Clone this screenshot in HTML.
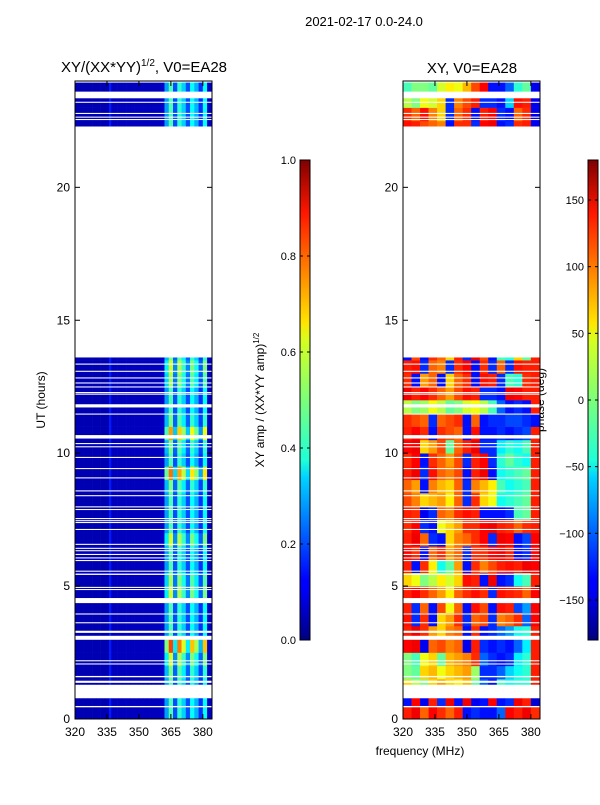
<!DOCTYPE html>
<html><head><meta charset="utf-8"><style>
body{margin:0;background:#fff;font-family:"Liberation Sans",sans-serif;}
svg text{font-family:"Liberation Sans","DejaVu Sans",sans-serif;}
</style></head><body>
<svg id="fig" width="600" height="800" xmlns="http://www.w3.org/2000/svg">
<defs>
<linearGradient id="jet" x1="0" y1="1" x2="0" y2="0">
<stop offset="0" stop-color="#00007f"/><stop offset="0.11" stop-color="#0000ff"/><stop offset="0.125" stop-color="#0000ff"/>
<stop offset="0.34" stop-color="#00d4ff"/><stop offset="0.375" stop-color="#1fffd7"/><stop offset="0.5" stop-color="#7cff79"/>
<stop offset="0.625" stop-color="#d7ff1f"/><stop offset="0.66" stop-color="#ffe500"/><stop offset="0.89" stop-color="#ff1600"/>
<stop offset="1" stop-color="#7f0000"/></linearGradient>
</defs>
<text x="364" y="26" font-size="13" text-anchor="middle">2021-02-17 0.0-24.0</text>
<text x="144" y="72" font-size="15" text-anchor="middle">XY/(XX*YY)<tspan font-size="10" dy="-6">1/2</tspan><tspan dy="6">, V0=EA28</tspan></text>
<text x="472" y="73" font-size="15" text-anchor="middle">XY, V0=EA28</text>
<text x="420" y="755" font-size="12" text-anchor="middle">frequency (MHz)</text>
<text transform="translate(45,400) rotate(-90)" font-size="12" text-anchor="middle">UT (hours)</text>
<text transform="translate(264,400) rotate(-90)" font-size="12" text-anchor="middle">XY amp / (XX*YY amp)<tspan font-size="8" dy="-5">1/2</tspan></text>
<text transform="translate(544,400) rotate(-90)" font-size="12" text-anchor="middle">phase (deg)</text>
<g id="ampG"></g>
<g id="phG"></g>
<g id="axG"></g>
</svg>
<script>
const dataRanges=[[0,0.78],[1.3,13.6],[22.3,24]];
const gaps=[[0.44,0.49],[1.36,1.44],[1.57,1.62],[2.05,2.09],[2.17,2.21],[2.98,3.13],[3.24,3.32],[3.6,3.64],[3.93,3.97],[4.36,4.55],[4.85,4.89],[4.93,4.97],[5.42,5.47],[5.54,5.58],[5.94,5.98],[6.04,6.08],[6.17,6.21],[6.31,6.35],[6.4,6.44],[6.55,6.59],[7.11,7.15],[7.37,7.41],[7.44,7.48],[7.52,7.56],[7.86,7.9],[7.96,8.0],[8.38,8.42],[8.56,8.6],[9.05,9.09],[9.4,9.44],[9.82,9.86],[10.22,10.26],[10.34,10.38],[10.55,10.68],[11.45,11.49],[11.72,11.84],[12.2,12.24],[12.26,12.3],[12.47,12.51],[12.62,12.66],[12.81,12.85],[13.06,13.1],[13.33,13.37],[22.53,22.57],[22.62,22.66],[22.76,22.8],[23.18,23.22],[23.35,23.6],[23.94,23.98]];
const ampFreqs=[320,322,324,326,328,330,332,334,336,337,338,340,342,344,346,348,350,352,354,356,358,360,362,364,366,368,370,372,374,376,378,380,382];
const ampProfile=[0.05,0.05,0.05,0.05,0.05,0.05,0.05,0.05,0.15,0.06,0.06,0.06,0.06,0.06,0.06,0.06,0.06,0.06,0.06,0.06,0.06,0.07,0.28,0.45,0.2,0.42,0.33,0.2,0.38,0.3,0.17,0.38,0.07];
const rowHours=[0,0.5,1,1.5,2,2.5,3,3.5,4,4.5,5,5.5,6,6.5,7,7.5,8,8.5,9,9.5,10,10.5,11,11.5,12,12.5,13,13.5,22,22.5,23,23.5];
const ampGain=[1,1,1,1.1,1.3,1.8,1,1,1,1.3,1.2,1,1,1.3,1,1,1,1.1,1.7,1,1.1,1.6,1.1,1,1,1.2,1.3,1.1,1,1,1,1];
const phFreqs=[320,324,328,332,336,340,344,348,352,356,360,364,368,372,376,380];
const phase=[
[125,140,100,135,120,100,125,-130,-120,-130,-130,-100,135,125,140,120],
[-130,135,-140,125,-120,140,-130,140,-140,-130,135,-130,-120,140,125,-150],
[60,20,0,60,80,60,50,70,-10,-100,-130,-20,-40,-30,-30,125],
[0,-10,60,70,40,60,70,80,10,-120,-120,-100,-60,-40,-30,125],
[0,-20,40,60,-10,70,80,90,120,-100,-120,-130,-120,-50,-30,125],
[135,140,-140,100,110,90,100,-140,125,-120,-130,-120,-130,-100,-50,125],
[125,140,120,80,60,90,100,-130,120,-130,-120,-100,-80,-40,-30,125],
[130,-120,120,-130,60,80,120,-120,100,110,-120,90,100,120,-100,135],
[125,-120,100,-130,110,40,100,-130,130,110,-130,130,125,-110,-80,135],
[125,135,120,100,80,50,100,120,130,120,-120,130,125,120,100,135],
[60,40,0,20,50,30,60,130,125,-130,140,-130,-120,-40,-20,125],
[125,-130,120,50,-40,-10,80,-130,120,90,110,125,130,125,140,135],
[135,120,-130,100,120,80,100,-120,120,120,135,140,125,-130,-120,135],
[125,140,100,-120,-130,60,90,100,120,135,-120,140,135,-130,-110,135],
[120,135,-120,-130,40,60,80,120,120,135,140,125,120,100,120,125],
[125,120,-140,-120,100,90,120,130,125,-130,-130,-130,-120,-20,-10,125],
[110,90,60,70,80,50,100,-120,120,60,40,-40,-30,-20,-10,125],
[100,80,-130,90,70,60,100,-120,90,70,50,-20,-40,-30,-20,125],
[125,140,-120,130,100,90,110,-130,125,140,-130,-40,-30,-20,-10,125],
[120,135,-130,120,100,80,110,-120,125,135,-120,-30,-10,-30,-40,125],
[135,140,60,80,110,-10,100,125,140,-120,-120,-50,-30,-40,-20,125],
[125,135,120,-130,120,110,100,-130,130,-130,-130,-120,-130,-120,-110,125],
[120,110,100,-120,100,110,120,-130,100,-130,-120,-120,-110,-110,-120,-130],
[20,0,10,40,20,-10,0,30,40,20,-20,-100,-130,-120,-130,125],
[140,125,135,120,100,80,110,130,125,-120,-120,-130,140,135,125,125],
[120,-130,80,100,-130,60,100,120,-130,130,125,-120,-20,-30,120,125],
[125,130,-120,100,90,-120,120,135,-130,120,-120,100,-120,130,125,125],
[-130,110,-130,120,100,60,125,-120,140,110,-130,-20,-30,60,-10,125],
[130,125,110,100,90,-130,120,120,-120,135,140,-130,-120,120,125,-140],
[120,100,130,90,60,-120,100,120,-130,125,135,-120,-130,100,120,-140],
[20,0,40,30,60,-120,90,110,125,-120,-120,-130,-60,130,125,-140],
[-20,0,0,-10,30,50,40,70,110,135,-130,-130,-100,-30,-10,-140]];
const yTicks=[0,5,10,15,20];
const xTicks=[320,335,350,365,380];
const ampTicks=[0.0,0.2,0.4,0.6,0.8,1.0];
const phTicks=[-150,-100,-50,0,50,100,150];

const NS='http://www.w3.org/2000/svg';
const panels=[{x0:75,x1:212},{x0:403,x1:540}];
const yT=81,yB=719;
const fMin=320,fMax=384.3;
const yOf=h=>yB-(h/24)*(yB-yT);
const xOf=(p,f)=>p.x0+(f-fMin)/(fMax-fMin)*(p.x1-p.x0);
function jet(v){v=Math.max(0,Math.min(1,v));
 const c=t=>Math.round(255*Math.max(0,Math.min(1,1.5-Math.abs(4*v-t))));
 return `rgb(${c(3)},${c(2)},${c(1)})`;}
function mk(tag,attrs,parent){const e=document.createElementNS(NS,tag);for(const k in attrs)e.setAttribute(k,attrs[k]);parent.appendChild(e);return e;}
const ampG=document.getElementById('ampG'),phG=document.getElementById('phG'),axG=document.getElementById('axG');
function cells(p,g,freqs,valFn,name){
 rowHours.forEach((h,ri)=>{
  dataRanges.forEach(r=>{
   const a=Math.max(h,r[0]),b=Math.min(h+0.5,r[1]);
   if(b<=a)return;
   freqs.forEach((f,ci)=>{
    const f2=ci+1<freqs.length?freqs[ci+1]:fMax;
    const x=xOf(p,f),w=xOf(p,f2)-x;
    const e=mk('rect',{x:x,y:yOf(b),width:w+0.3,height:yOf(a)-yOf(b)+0.3,fill:valFn(ri,ci)},g);
    
    
   });
  });
 });
}
cells(panels[0],ampG,ampFreqs,(ri,ci)=>{const v=ampProfile[ci];return jet(v>0.16?Math.min(1,v*ampGain[ri]):v);},'amp-cell');
cells(panels[1],phG,phFreqs,(ri,ci)=>jet((phase[ri][ci]+180)/360),'phase-cell');
panels.forEach((p,pi)=>{
 gaps.forEach(g=>{
  const e=mk('rect',{x:p.x0,y:yOf(g[1]),width:p.x1-p.x0,height:yOf(g[0])-yOf(g[1]),fill:'#fff'},axG);
  
  
 });
 const fr=mk('rect',{x:p.x0,y:yT,width:p.x1-p.x0,height:yB-yT,fill:'none',stroke:'#000','stroke-width':1},axG);
 
 
 yTicks.forEach(t=>{const y=yOf(t);
  mk('line',{x1:p.x0,x2:p.x0+5,y1:y,y2:y,stroke:'#000'},axG);mk('line',{x1:p.x1,x2:p.x1-5,y1:y,y2:y,stroke:'#000'},axG);
  const tx=mk('text',{x:p.x0-5,y:y+4,'font-size':12,'text-anchor':'end'},axG);tx.textContent=t;
  
  
 });
 xTicks.forEach(t=>{const x=xOf(p,t);
  mk('line',{x1:x,x2:x,y1:yB,y2:yB-5,stroke:'#000'},axG);mk('line',{x1:x,x2:x,y1:yT,y2:yT+5,stroke:'#000'},axG);
  const tx=mk('text',{x:x,y:yB+17,'font-size':12,'text-anchor':'middle'},axG);tx.textContent=t;
  
  
 });
});
const cbT=160,cbB=640;
[[300,ampTicks,v=>v,v=>v.toFixed(1),'amp-colorbar'],[588,phTicks,v=>(v+180)/360,v=>(v<0?'\u2212':'')+Math.abs(v),'phase-colorbar']].forEach(([x,ticks,norm,fmt,name])=>{
 const r=mk('rect',{x:x,y:cbT,width:10,height:cbB-cbT,fill:'url(#jet)',stroke:'#000','stroke-width':1},axG);
 
 
 ticks.forEach(t=>{const y=cbB-norm(t)*(cbB-cbT);
  mk('line',{x1:x,x2:x+3,y1:y,y2:y,stroke:'#000'},axG);mk('line',{x1:x+10,x2:x+7,y1:y,y2:y,stroke:'#000'},axG);
  const tx=mk('text',{x:x-4,y:y+4,'font-size':11,'text-anchor':'end'},axG);tx.textContent=fmt(t);
  
  
 });
});
</script>
</body></html>
